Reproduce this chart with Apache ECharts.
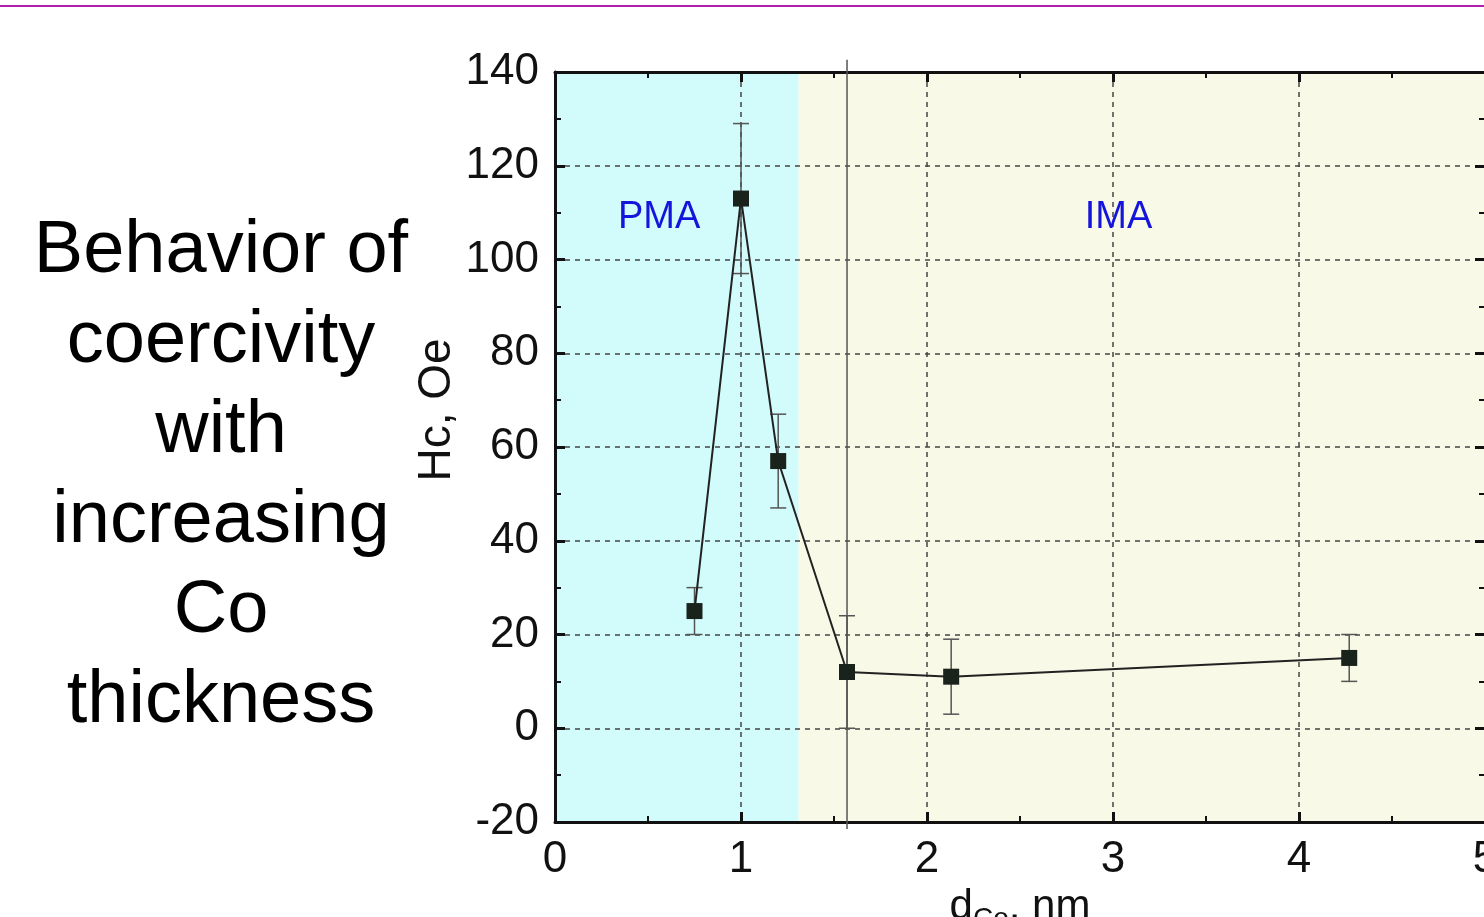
<!DOCTYPE html>
<html>
<head>
<meta charset="utf-8">
<script src="https://cdn.jsdelivr.net/npm/echarts@6/dist/echarts.min.js"></script>
<style>
  html, body { margin: 0; padding: 0; background: #fff; }
  #main { width: 1484px; height: 917px; }
</style>
</head>
<body>
<div id="main"></div>
<script>
// Co thickness (nm) and coercivity (Oe)
var thickness = [0.75, 1.0, 1.2, 1.57, 2.13, 4.27];
var coercivity = [25, 113, 57, 12, 11, 15];
var errLow = [20, 97, 47, 0, 3, 10];
var errHigh = [30, 129, 67, 24, 19, 20];

// anisotropy regions
var regions = [
  {name: 'PMA', from: 0, to: 1.31, color: '#d2fbfb'},
  {name: 'IMA', from: 1.31, to: 5, color: '#f9f9e8'}
];
var regionLabels = [[0.56, 109], [3.03, 109]];
var dividerX = 1.57;

var xTicks = [0, 1, 2, 3, 4, 5];
var yTicks = [-20, 0, 20, 40, 60, 80, 100, 120, 140];

var chart = echarts.init(document.getElementById('main'));
var font = 'Liberation Sans, Arial, sans-serif';

function axisCommon(showLabel) {
  return {
    z: 3,
    axisLine: {show: true, onZero: false, lineStyle: {color: '#111', width: 3}},
    axisTick: {show: true, inside: true, length: 10, lineStyle: {color: '#111', width: 3}},
    minorTick: {show: true, splitNumber: 2, length: 6, lineStyle: {color: '#111', width: 2}},
    axisLabel: {show: showLabel, color: '#111', fontSize: 44, fontFamily: font},
    splitLine: {show: false}
  };
}

var option = {
  animation: false,
  graphic: [
    {
      type: 'line',
      shape: {x1: 0, y1: 6, x2: 1484, y2: 6},
      style: {stroke: '#b01cb0', lineWidth: 2}
    },
    {
      type: 'text',
      style: {
        text: 'Behavior of\ncoercivity\nwith\nincreasing\nCo\nthickness',
        x: 221, y: 477,
        fill: '#000',
        font: '74px Liberation Sans, Arial, sans-serif',
        textAlign: 'center',
        textVerticalAlign: 'middle',
        lineHeight: 90
      }
    },
    {
      // y axis title
      type: 'text',
      x: 437, y: 410,
      rotation: Math.PI / 2,
      style: {
        text: 'Hc, Oe',
        fill: '#111',
        font: '46px Liberation Sans, Arial, sans-serif',
        textAlign: 'center',
        textVerticalAlign: 'middle'
      }
    }
  ],
  grid: {left: 555, top: 72, width: 930, bottom: 95, containLabel: false, outerBoundsMode: 'none'},
  xAxis: [
    Object.assign(axisCommon(true), {
      type: 'value', min: 0, max: 5, interval: 1, position: 'bottom',
      name: '{d|d}{s|Co}{d|, nm}',
      nameLocation: 'middle', nameGap: 60,
      nameTextStyle: {
        rich: {
          d: {fontSize: 42, fontFamily: font, color: '#111'},
          s: {fontSize: 28, fontFamily: font, color: '#111', verticalAlign: 'bottom', padding: [22, 0, 0, 0]}
        }
      },
      axisLabel: {show: true, color: '#111', fontSize: 44, fontFamily: font, margin: 16,
        formatter: function (v) { return xTicks.indexOf(v) >= 0 ? v : ''; }},
      splitLine: {show: true, lineStyle: {color: '#444', type: [5, 5], width: 1.5}}
    }),
    Object.assign(axisCommon(false), {
      type: 'value', min: 0, max: 5, interval: 1, position: 'top'
    })
  ],
  yAxis: [
    Object.assign(axisCommon(true), {
      type: 'value', min: -20, max: 140, interval: 20, position: 'left',
      axisLabel: {show: true, color: '#111', fontSize: 44, fontFamily: font, margin: 16,
        formatter: function (v) { return yTicks.indexOf(v) >= 0 ? v : ''; }},
      splitLine: {show: true, lineStyle: {color: '#444', type: [5, 5], width: 1.5}}
    }),
    Object.assign(axisCommon(false), {
      type: 'value', min: -20, max: 140, interval: 20, position: 'right'
    })
  ],
  series: [
    {
      type: 'line',
      z: 1,
      data: [],
      silent: true,
      markArea: {
        silent: true,
        label: {show: false},
        data: regions.map(function (r) {
          return [
            {name: r.name, xAxis: r.from, yAxis: -20, itemStyle: {color: r.color}},
            {xAxis: r.to, yAxis: 140}
          ];
        })
      }
    },
    {
      // region labels
      type: 'scatter',
      symbolSize: 0,
      z: 4,
      silent: true,
      itemStyle: {opacity: 1},
      data: regionLabels,
      label: {
        show: true, position: 'inside', color: '#1414dc', fontSize: 38, fontFamily: font,
        formatter: function (p) { return regions[p.dataIndex].name; }
      }
    },
    {
      // divider line
      type: 'custom',
      z: 4,
      silent: true,
      clip: false,
      data: [[dividerX]],
      renderItem: function (params, api) {
        var a = api.coord([api.value(0), 142.6]);
        var b = api.coord([api.value(0), -21.5]);
        return {type: 'line', shape: {x1: a[0], y1: a[1], x2: b[0], y2: b[1]},
          style: {stroke: '#555', lineWidth: 1.5}};
      }
    },
    {
      // error bars
      type: 'custom',
      z: 5,
      silent: true,
      data: thickness.map(function (x, i) { return [x, errLow[i], errHigh[i]]; }),
      renderItem: function (params, api) {
        var lo = api.coord([api.value(0), api.value(1)]);
        var hi = api.coord([api.value(0), api.value(2)]);
        var w = 8;
        var st = {stroke: '#555', lineWidth: 1.5};
        return {
          type: 'group',
          children: [
            {type: 'line', shape: {x1: lo[0], y1: lo[1], x2: hi[0], y2: hi[1]}, style: st},
            {type: 'line', shape: {x1: lo[0] - w, y1: lo[1], x2: lo[0] + w, y2: lo[1]}, style: st},
            {type: 'line', shape: {x1: hi[0] - w, y1: hi[1], x2: hi[0] + w, y2: hi[1]}, style: st}
          ]
        };
      }
    },
    {
      type: 'line',
      z: 6,
      data: thickness.map(function (x, i) { return [x, coercivity[i]]; }),
      symbol: 'rect',
      symbolSize: 16,
      itemStyle: {color: '#1a221c', borderWidth: 0},
      lineStyle: {color: '#222', width: 2}
    }
  ]
};

chart.setOption(option);
</script>
</body>
</html>
